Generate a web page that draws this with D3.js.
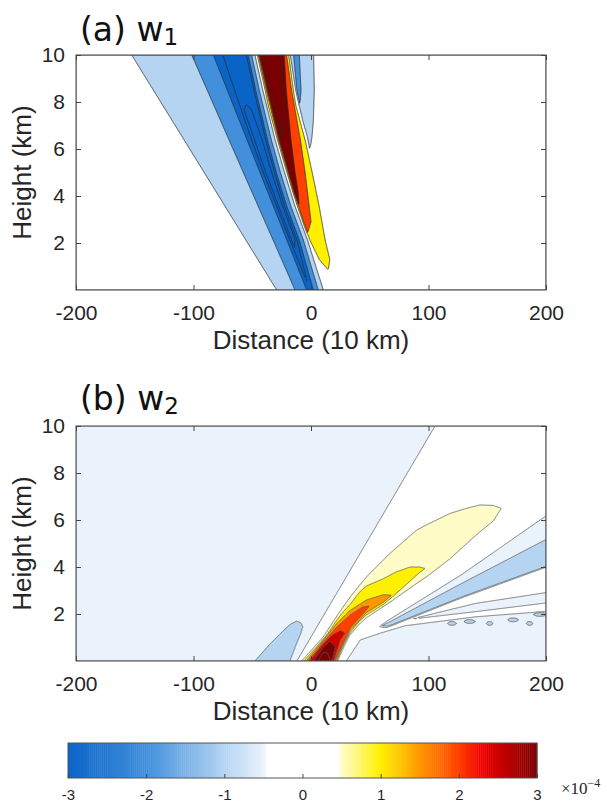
<!DOCTYPE html>
<html>
<head>
<meta charset="utf-8">
<script src="https://cdn.jsdelivr.net/npm/d3@7"></script>
<style>
  body { margin: 0; background: #fff; }
  .axis text { font-family: "Liberation Sans", Arial, sans-serif; font-size: 21px; fill: #262626; }
  .axis line { stroke: #444; }
  .label { font-family: "Liberation Sans", Arial, sans-serif; font-size: 26px; fill: #262626; }
  .title { font-family: "DejaVu Sans", sans-serif; font-size: 33px; fill: #111; }
</style>
</head>
<body>
<svg class="chart" width="607" height="804"></svg>
<script>
const plotLeft = 76, plotWidth = 470, plotHeight = 235;
const xTicks = [-200, -100, 0, 100, 200];
const zTicks = [2, 4, 6, 8, 10];
const barTicks = [-3, -2, -1, 0, 1, 2, 3];

// colour map, units of 1e-4
const colorStops = [-3, -2, -1, -0.5, -0.45, 0.45, 0.5, 1, 1.5, 2, 2.3, 3];
const colorHex = ["#0a64c8", "#4290dc", "#b4d4f2", "#eaf2fc", "#ffffff", "#ffffff",
                  "#fffcc8", "#fff000", "#ff9800", "#ff4000", "#f00000", "#7a0000"];

const w1Light  = [[-1,-16.9,17],[0,-29.2,10.5],[2.13,-55.5,-3],[3.55,-73,-13.5],[5,-90.9,-22.5],[6.38,-107.9,-30.5],[8.5,-134.1,-41],[10,-152.6,-47.7],[10.6,-160,-51]];
const w1Medium = [[-1,-4.8,13],[0,-13.6,6.2],[2.13,-32.3,-6.5],[3.55,-44.8,-17],[5,-57.6,-26],[6.38,-69.7,-33.7],[8.5,-88.3,-44],[10,-101.5,-50.5],[10.6,-106.8,-53.8]];
const w1Strong = [[-1,4.2,11],[0,-3.7,2],[2.13,-20.6,-10],[3.55,-31.9,-20.5],[5,-43.4,-29.5],[6.38,-54.4,-37],[8.5,-71.2,-47],[10,-83.1,-53.4],[10.6,-87.9,-56.5]];
const w1Deep   = [[0.3,-3,-3],[2.13,-18,-12],[3.55,-29,-22.5],[5,-40.5,-31],[6.38,-50.5,-38.5],[8.5,-65,-48.5],[10,-75,-55],[10.6,-79.5,-58]];
const w1Trough = [[1.8,-14,-14],[2.13,-16.5,-13.5],[3.55,-27.5,-24],[5,-38.5,-33.5],[6.38,-48,-41.5],[7.66,-57,-50.5],[7.9,-55,-55]];
const w1Yellow = [[0.85,14.7,14.7],[1.3,7,16],[2.13,-1,12],[3.55,-11.5,7],[5,-20.5,1],[6.38,-28.5,-5],[7.87,-36.5,-13],[8.5,-39,-15],[10,-45.7,-19],[10.6,-49,-21.5]];
const w1Red    = [[2.41,-3,-3],[2.9,-6.5,0],[3.55,-10.5,-1.5],[5,-19.5,-5],[6.38,-27.5,-9],[8.5,-38,-16.5],[10,-44.7,-20.8],[10.6,-48,-23.5]];
const w1Dark   = [[3.55,-10,-10],[4.2,-15,-11],[5,-19,-13.5],[6.38,-27,-17],[8.5,-37,-21],[10,-44,-22.8],[10.6,-47,-25]];
const w1Peak   = [[6.5,-24,-24],[7.5,-29.5,-22.5],[8.5,-34.5,-23.5],[10.6,-44,-27]];
const w1Side   = [[5.96,-1,-1],[6.5,-3,0.8],[7.2,-7,2],[8.5,-13,2.8],[10.6,-19.5,2]];
const w1SideIn = [[7.87,-9.5,-9.5],[8.5,-12,-8.5],[10.6,-16,-10.5]];

// (b) w2 : wedge as [z, x left, x right]; the rest as [x, z low, z high]
const w2Wedge  = [[-1,-23.75,400],[11,117.25,400]];
const w2Low    = [[26,-1,-0.3],[30,-1,0],[42,-1,0.9],[60,-1,1.2],[80,-1,1.5],[140,-1,1.88],[210,-1,2.15]];
const w2Left   = [[-58,-1,-1],[-47.7,-1,0],[-35,-1,0.72],[-25,-0.4,1.22],[-18,0,1.55],[-12.2,0.75,1.7],[-8.5,1.2,1.62],[-7,1.45,1.45]];
const w2Pale   = [[-12,-1,-1],[-8,-1.2,0],[10.5,-1.2,1.03],[21.8,-0.1,1.9],[27.5,0.55,2.31],[33,1.1,2.7],[41.7,1.6,3.25],[47.4,1.85,3.59],[67.2,2.5,4.58],[89.9,3.3,5.57],[98.5,3.59,5.8],[118.3,4.35,6.28],[132.5,5,6.5],[143.8,5.5,6.64],[155,5.95,6.62],[162,6.5,6.5]];
const w2Yellow = [[-10,-1,-1],[-6,-1.2,0],[13.4,-1.2,1.1],[22,0,1.75],[27.5,0.7,2.1],[33.2,1.2,2.4],[41.7,1.72,2.95],[47.4,1.97,3.2],[61.5,2.4,3.5],[72,2.85,3.78],[84.3,3.4,4],[92,3.75,4],[97,3.94,3.94]];
const w2Orange = [[-8,-1,-1],[-4,-1.2,0],[10,-1.2,0.86],[22,0.1,1.6],[33.2,1.3,2.15],[47.4,2.07,2.6],[61.5,2.5,2.82],[68.7,2.8,2.8]];
const w2Red    = [[-6,-1,-1],[-2.5,-1.2,0],[10,-1.2,0.78],[22,0.2,1.45],[33.2,1.4,1.95],[44,2,2.3],[50,2.35,2.35]];
const w2Dark   = [[-4,-1,-1],[-1,-1.2,0],[10,-1.2,0.7],[18,-0.2,1.1],[25,0.9,1.3],[29,1.2,1.2]];
const w2Dark2  = [[0,-1,-1],[2,-1.2,0],[10,-1.2,0.55],[16,-0.3,0.85],[21,0.6,0.6]];
const w2Dark3  = [[4,-1,-1],[6,-1.2,0],[10,-1.2,0.35],[14,-0.4,0.35],[16,0.1,0.1]];
const w2Streak   = [[58,1.45,1.45],[64,1.42,1.68],[128,2.69,3.67],[205,4.1,6.35]];
const w2StreakIn = [[60,1.5,1.5],[66,1.48,1.64],[130,2.75,3.35],[205,4.1,5.3]];
const w2Thread   = [[85,1.78,1.78],[140,2.1,2.45],[205,2.5,2.95]];
const dashX   = [120, 135, 152, 172, 186, 195];
const dashZ   = [1.6, 1.68, 1.6, 1.75, 1.6, 1.98];
const dashLen = [4, 5, 3, 5, 3, 6];

const color = d3.scaleLinear().domain(colorStops).range(colorHex).clamp(true);
const KX = plotWidth / 400, KZ = plotHeight / 10;
const svg = d3.select(".chart");

function region(rows, d, dir) {
  const pos = rows.map(r => r[0]);
  return {
    d, dir,
    a0: pos[0], a1: pos[pos.length - 1],
    lo: d3.scaleLinear().domain(pos).range(rows.map(r => r[1])),
    hi: d3.scaleLinear().domain(pos).range(rows.map(r => r[2]))
  };
}

// signed distance (px) to the region edge, >0 inside
function inside(r, x, z) {
  const v = r.dir === "v";
  const along = v ? z : x, across = v ? x : z;
  const ka = v ? KZ : KX, kc = v ? KX : KZ;
  let d = Math.min((along - r.a0) * ka, (r.a1 - along) * ka);
  if (d > -3) d = Math.min(d, (across - r.lo(along)) * kc, (r.hi(along) - across) * kc);
  return d;
}

const dashes = dashX.map((cx, i) => {
  const h = dashLen[i], cz = dashZ[i], t = 0.08;
  return region([[cx - h, cz, cz], [cx - h / 2, cz - t * 0.87, cz + t * 0.87], [cx, cz - t, cz + t],
                 [cx + h / 2, cz - t * 0.87, cz + t * 0.87], [cx + h, cz, cz]], -1, "h");
});

const panels = [
  {
    top: 55, titleY: 41, title: "(a) w", sub: "1", base: 0, step: 1, stroke: "#2a2a2a",
    levels: d3.range(-5.5, 4, 1),
    regions: [
      region(w1Light, -1, "v"), region(w1Medium, -1, "v"), region(w1Strong, -1, "v"),
      region(w1Deep, -1, "v"), region(w1Trough, -1, "v"),
      region(w1Yellow, 1, "v"), region(w1Red, 1, "v"), region(w1Dark, 1, "v"), region(w1Peak, 1, "v"),
      region(w1Side, -1, "v"), region(w1SideIn, -1, "v")
    ]
  },
  {
    top: 426, titleY: 410, title: "(b) w", sub: "2", base: -1, step: 0.5, stroke: "#5a5a5a",
    levels: d3.range(-2.5, 7, 1),
    regions: [
      region(w2Wedge, 1, "v"), region(w2Low, -1, "h"), region(w2Left, -1, "h"),
      ...[w2Pale, w2Yellow, w2Orange, w2Red, w2Dark, w2Dark2, w2Dark3].map(rows => region(rows, 1, "h")),
      region(w2Streak, -1, "h"), region(w2StreakIn, -1, "h"), region(w2Thread, -1, "h"),
      ...dashes
    ]
  }
];

panels.forEach((p, k) => drawPanel(p, k));

function drawPanel(p, k) {
  const xScale = d3.scaleLinear().domain([-200, 200]).range([plotLeft, plotLeft + plotWidth]);
  const yScale = d3.scaleLinear().domain([0, 10]).range([p.top + plotHeight, p.top]);

  // field on a 1px grid
  const values = new Float64Array(plotWidth * plotHeight);
  for (let j = 0; j < plotHeight; j++) {
    const z = yScale.invert(p.top + j + 0.5);
    for (let i = 0; i < plotWidth; i++) {
      const x = xScale.invert(plotLeft + i + 0.5);
      let v = p.base;
      for (const r of p.regions) {
        const sd = inside(r, x, z);
        if (sd > -0.75) v += r.d * Math.min(1, 0.5 + sd / 1.5);
      }
      values[j * plotWidth + i] = v;
    }
  }
  const contours = d3.contours().size([plotWidth, plotHeight]).thresholds(p.levels)(values);

  svg.append("clipPath").attr("id", "clip" + k)
    .append("rect").attr("width", plotWidth).attr("height", plotHeight);

  const g = svg.append("g")
    .attr("transform", `translate(${plotLeft},${p.top})`)
    .attr("clip-path", `url(#clip${k})`);
  g.selectAll("path")
    .data(contours)
    .join("path")
    .attr("d", d3.geoPath())
    .attr("fill", c => color((c.value + 0.5) * p.step))
    .attr("stroke", p.stroke)
    .attr("stroke-width", 0.8);

  // axes, ticks pointing in on all four sides
  svg.append("g").attr("class", "axis")
    .attr("transform", `translate(0,${p.top + plotHeight})`)
    .call(d3.axisBottom(xScale).tickValues(xTicks).tickSize(-5).tickPadding(15).tickFormat(d => String(d)))
    .call(a => a.select(".domain").remove());
  svg.append("g").attr("class", "axis")
    .attr("transform", `translate(0,${p.top})`)
    .call(d3.axisTop(xScale).tickValues(xTicks).tickSize(-5).tickFormat(""))
    .call(a => a.select(".domain").remove());
  svg.append("g").attr("class", "axis")
    .attr("transform", `translate(${plotLeft},0)`)
    .call(d3.axisLeft(yScale).tickValues(zTicks).tickSize(-5).tickPadding(11).tickFormat(d => String(d)))
    .call(a => a.select(".domain").remove());
  svg.append("g").attr("class", "axis")
    .attr("transform", `translate(${plotLeft + plotWidth},0)`)
    .call(d3.axisRight(yScale).tickValues(zTicks).tickSize(-5).tickFormat(""))
    .call(a => a.select(".domain").remove());

  svg.append("rect")
    .attr("x", plotLeft).attr("y", p.top).attr("width", plotWidth).attr("height", plotHeight)
    .attr("fill", "none").attr("stroke", "#444").attr("stroke-width", 1);

  svg.append("text").attr("class", "label")
    .attr("x", plotLeft + plotWidth / 2).attr("y", p.top + plotHeight + 59)
    .attr("text-anchor", "middle").text("Distance (10 km)");
  svg.append("text").attr("class", "label")
    .attr("transform", `translate(31,${p.top + plotHeight / 2}) rotate(-90)`)
    .attr("text-anchor", "middle").text("Height (km)");

  const t = svg.append("text").attr("class", "title")
    .attr("x", 80).attr("y", p.titleY).text(p.title);
  t.append("tspan").attr("font-size", 23).attr("dy", 4).text(p.sub);
}

// colour bar
const barScale = d3.scaleLinear().domain([-3, 3]).range([68, 537]);
const barSteps = d3.range(-3, 3, 0.025);
svg.append("g").selectAll("rect")
  .data(barSteps)
  .join("rect")
  .attr("x", d => barScale(d))
  .attr("y", 743)
  .attr("width", barScale(0.025) - barScale(0) + 0.4)
  .attr("height", 35)
  .attr("fill", d => color(d + 0.0125));
svg.append("rect")
  .attr("x", 68).attr("y", 743).attr("width", 469).attr("height", 35)
  .attr("fill", "none").attr("stroke", "#555");
svg.append("g").attr("class", "axis")
  .attr("transform", "translate(0,778)")
  .call(d3.axisBottom(barScale).tickValues(barTicks).tickSize(-4).tickPadding(11).tickFormat(d => String(d)))
  .call(a => a.select(".domain").remove())
  .selectAll("text").style("font-size", "15px");

const expo = svg.append("text")
  .attr("x", 561).attr("y", 794)
  .style("font-family", "'Liberation Serif', serif").style("font-size", "17px").attr("fill", "#262626")
  .text("×10");
expo.append("tspan").attr("dy", -7).style("font-size", "12px").text("−4");
</script>
</body>
</html>
